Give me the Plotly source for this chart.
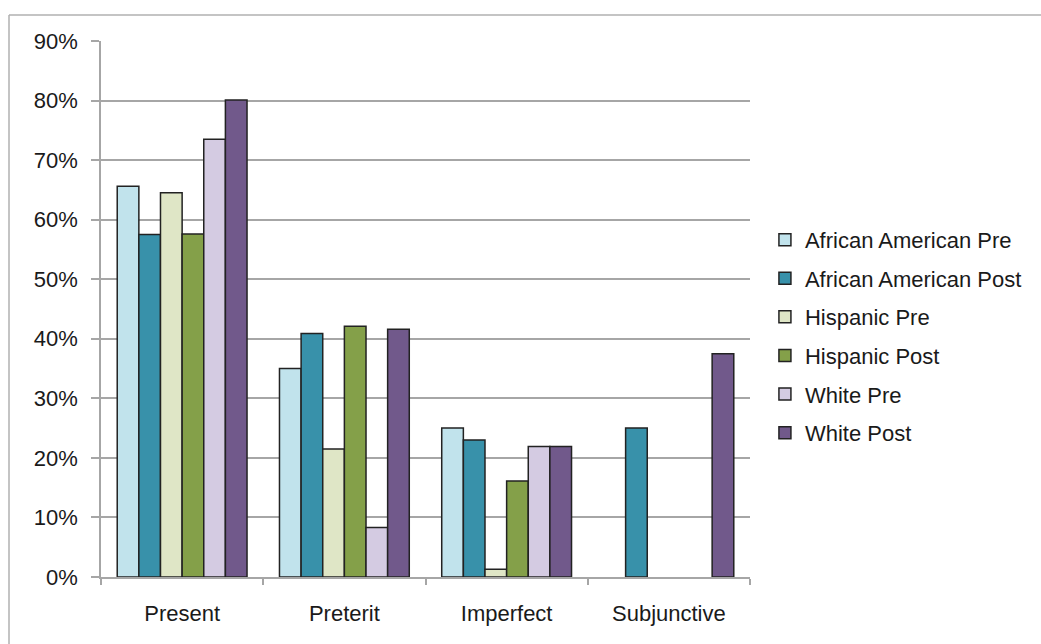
import plotly.graph_objects as go

categories = ["Present", "Preterit", "Imperfect", "Subjunctive"]

aa_pre = [0.656, 0.350, 0.250, None]
aa_post = [0.575, 0.409, 0.230, 0.250]
hisp_pre = [0.645, 0.215, 0.013, None]
hisp_post = [0.576, 0.421, 0.161, None]
white_pre = [0.735, 0.083, 0.219, None]
white_post = [0.801, 0.416, 0.219, 0.375]

series = [
    ("African American Pre", aa_pre, "#c1e3ec"),
    ("African American Post", aa_post, "#3891aa"),
    ("Hispanic Pre", hisp_pre, "#dfe6c6"),
    ("Hispanic Post", hisp_post, "#84a049"),
    ("White Pre", white_pre, "#d4cbe2"),
    ("White Post", white_post, "#71598b"),
]

y_ticks = [i / 10 for i in range(10)]
y_tick_text = [f"{i * 10}%" for i in range(10)]

fig = go.Figure()
for name, vals, color in series:
    fig.add_trace(go.Bar(
        name=name, x=categories, y=vals, legendgroup=name,
        marker=dict(color=color, line=dict(color="#222222", width=1.5)),
    ))

grid = "#a6a6a6"
frame_x = (9 - 101) / 649
frame_y = (577 - 15) / 536
fig.update_layout(
    width=1041, height=644,
    margin=dict(l=101, r=291, t=41, b=67),
    paper_bgcolor="white", plot_bgcolor="white",
    barmode="group", bargap=0.2, bargroupgap=0,
    font=dict(family="Liberation Sans, Arial, sans-serif", size=22, color="#1a1a1a"),
    showlegend=True,
    legend=dict(
        x=1.023, y=0.449, xanchor="left", yanchor="middle",
        font=dict(size=22, color="#1a1a1a"),
        itemwidth=30, bgcolor="rgba(0,0,0,0)",
        traceorder="grouped", tracegroupgap=7,
    ),
    xaxis=dict(
        showline=True, linecolor=grid, linewidth=1.5,
        ticks="outside", tickson="boundaries", ticklen=6, tickcolor=grid, tickwidth=1.5,
        showgrid=False, tickfont=dict(size=22), ticklabelstandoff=16,
    ),
    yaxis=dict(
        range=[0, 0.9], tickvals=y_ticks, ticktext=y_tick_text,
        showline=True, linecolor=grid, linewidth=1.5,
        ticks="outside", ticklen=8, tickcolor=grid, tickwidth=1.5,
        showgrid=True, gridcolor=grid, gridwidth=1.5,
        zeroline=False, tickfont=dict(size=22), ticklabelstandoff=9,
    ),
    shapes=[
        dict(type="line", xref="paper", yref="paper",
             x0=frame_x, x1=1.6, y0=frame_y, y1=frame_y,
             line=dict(color="#b0b0b0", width=1.5)),
        dict(type="line", xref="paper", yref="paper",
             x0=frame_x, x1=frame_x, y0=frame_y, y1=-0.3,
             line=dict(color="#b0b0b0", width=1.5)),
    ],
)

fig.write_html("out.html")
